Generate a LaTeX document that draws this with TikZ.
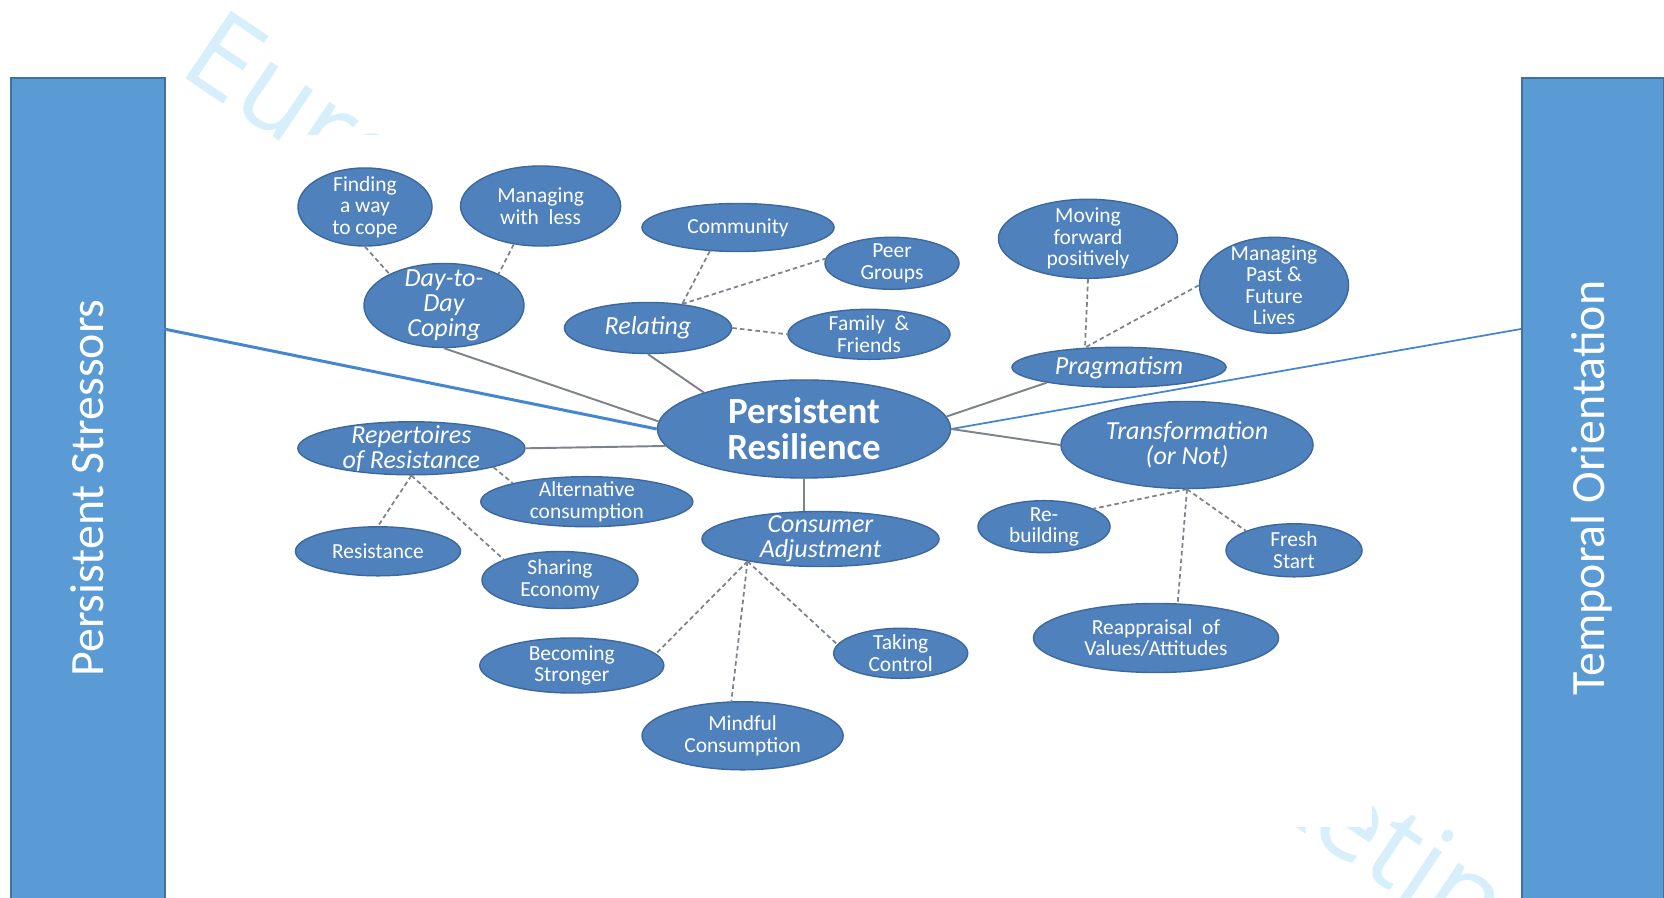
\documentclass[tikz,border=0pt]{standalone}
\usepackage{fontspec}
\setmainfont{Carlito}
\newfontfamily\markfont{Open Sans}
\usetikzlibrary{shapes.geometric}
\definecolor{barblue}{RGB}{91,155,213}
\definecolor{baredge}{RGB}{65,113,156}
\definecolor{bubblefill}{RGB}{79,129,189}
\definecolor{bubbleedge}{RGB}{60,104,158}
\definecolor{linkgray}{RGB}{125,130,140}
\definecolor{hookblue}{RGB}{68,134,208}
\definecolor{markblue}{RGB}{214,239,251}

\begin{document}
\begin{tikzpicture}[x=0.01cm,y=-0.01cm,
  bubble/.style={ellipse,fill=bubblefill,draw=bubbleedge,line width=0.4pt,text=white,inner sep=-2pt,align=center},
  core/.style={bubble,font=\fontsize{10.5}{10.3}\selectfont\bfseries},
  branch/.style={bubble,font=\fontsize{7.4}{7.2}\selectfont\itshape},
  leaf/.style={bubble,font=\fontsize{6.1}{6.1}\selectfont},
  barbox/.style={draw=baredge,fill=barblue,line width=0.6pt,anchor=north west,inner sep=0pt},
  bartext/.style={rotate=90,text=white,font=\fontsize{13.6}{16}\selectfont},
  solidlink/.style={linkgray,line width=0.55pt},
  dashlink/.style={linkgray,line width=0.5pt,dash pattern=on 1.3pt off 0.9pt},
  hook/.style={hookblue}]
\useasboundingbox (0,0) rectangle (1664,898);
\clip (0,0) rectangle (1664,898);
% ---------- watermark, mostly hidden ----------
\node[font=\markfont\fontsize{32.5}{40}\selectfont,text=markblue,rotate=-34,anchor=base west,inner sep=0pt] (mark) at (176,72) {European Journal of Marketing};
\fill[white] (290,135) rectangle (1372,827);
% ---------- side bars ----------
\node[barbox,minimum width=1.54cm,minimum height=8.4cm] (lbar) at (10,77) {};
\node[bartext] (lname) at (87,488) {Persistent Stressors};
\node[barbox,minimum width=1.42cm,minimum height=8.4cm] (rbar) at (1521,77) {};
\node[bartext] (rname) at (1592,488) {Temporal Orientation};
\coordinate (lhook) at (164,329);
\coordinate (rhook) at (1521,329);
% ---------- bubbles ----------
\node[core,minimum width=2.93cm,minimum height=0.98cm] (pr) at (804,429) {Persistent\\Resilience};
\foreach \nm/\cx/\cy/\bw/\bh/\txt in {
  dtd/444/305.5/1.60/0.84/{Day-to-\\Day\\Coping},
  rel/648/328/1.67/0.51/{Relating},
  prag/1119/367.3/2.14/0.40/{Pragmatism},
  trans/1187/445/2.52/0.87/{Transformation\\(or Not)},
  rep/411.4/448.3/2.27/0.53/{Repertoires\\of Resistance},
  ca/820.5/539/2.37/0.55/{Consumer\\Adjustment}}{
  \node[branch,minimum width=\bw cm,minimum height=\bh cm] (\nm) at (\cx,\cy) {\txt};
}
\foreach \nm/\cx/\cy/\bw/\bh/\txt in {
  fwc/365/207/1.34/0.78/{Finding\\a way\\to cope},
  mwl/540.6/206/1.60/0.80/{Managing\\with\ \ less},
  comm/738/227.5/1.92/0.48/{Community},
  peer/892/263.3/1.34/0.52/{Peer\\Groups},
  fam/869/334.3/1.62/0.50/{Family\ \ \&\\Friends},
  mov/1088/238.8/1.79/0.79/{Moving\\forward\\positively},
  mpf/1274/285.3/1.49/0.96/{Managing\\Past \&\\Future\\Lives},
  reb/1044/526.7/1.32/0.52/{Re-\\building},
  fresh/1294/550.3/1.36/0.53/{Fresh\\Start},
  reap/1156/638/2.45/0.69/{Reappraisal\ \ of\\Values/Attitudes},
  alt/586.8/501.7/2.12/0.50/{Alternative\\consumption},
  res/378/551.3/1.65/0.49/{Resistance},
  share/560/580/1.56/0.57/{Sharing\\Economy},
  bs/571.8/665.5/1.84/0.55/{Becoming\\Stronger},
  tc/900.7/653.3/1.34/0.50/{Taking\\Control},
  mc/742.6/735.8/2.01/0.68/{Mindful\\Consumption}}{
  \node[leaf,minimum width=\bw cm,minimum height=\bh cm] (\nm) at (\cx,\cy) {\txt};
}
% ---------- links ----------
\draw[hook,line width=0.85pt] (lhook) -- (pr.west);
\draw[hook,line width=0.5pt] (rhook) -- (pr.east);
\draw[solidlink] (dtd.south) -- (pr.177);
\draw[solidlink] (rel.south) -- (pr.160);
\draw[solidlink] (rep.east) -- (pr.187);
\draw[solidlink] (pr.south) -- (pr.south |- ca.north);
\draw[solidlink] (pr.5) -- (prag.192);
\draw[solidlink] (pr.east) -- (trans.west);
\draw[dashlink] (fwc.south) -- (dtd.150);
\draw[dashlink] (mwl.235) -- (dtd.30);
\draw[dashlink] (comm.220) -- (rel.35);
\draw[dashlink] (rel.35) -- (peer.176);
\draw[dashlink] (rel.east) -- (fam.west);
\draw[dashlink] (mov.south) -- (prag.150);
\draw[dashlink] (mpf.west) -- (prag.150);
\draw[dashlink] (trans.south) -- (reb.20);
\draw[dashlink] (trans.south) -- (fresh.158);
\draw[dashlink] (trans.south) -- (reap.58);
\draw[dashlink] (rep.south) -- (res.north);
\draw[dashlink] (rep.south) -- (share.160);
\draw[dashlink] (rep.347) -- (alt.166);
\draw[dashlink] (ca.197) -- (bs.8);
\draw[dashlink] (ca.197) -- (mc.108);
\draw[dashlink] (ca.197) -- (tc.172);
\end{tikzpicture}
\end{document}
